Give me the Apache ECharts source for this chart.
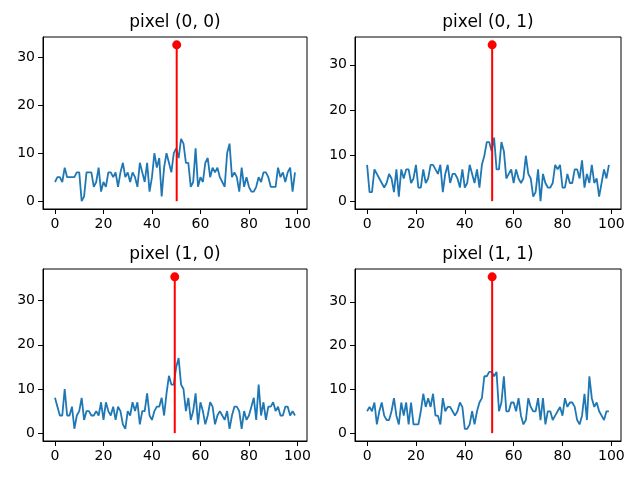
<!DOCTYPE html>
<html><head><meta charset="utf-8">
<script src="https://cdn.jsdelivr.net/npm/echarts@6/dist/echarts.min.js"></script>
<style>html,body{margin:0;padding:0;background:#fff}#c{width:640px;height:480px}</style>
</head><body><div id="c"></div>
<script>
const titles = ['pixel (0, 0)', 'pixel (0, 1)', 'pixel (1, 0)', 'pixel (1, 1)'];
const s00 = [4,5,5,4,7,5,5,5,5,6,6,0,1,6,6,6,3,4,7,2,4,3,6,6,5,6,3,6,8,5,6,4,6,5,3,8,6,4,8,2,5,10,7,9,1,7,10,8,6,10,11,9,13,12,8,8,3,4,11,3,5,4,8,9,5,7,6,7,5,4,3,10,12,5,6,5,2,7,3,5,3,2,2,3,5,4,6,6,5,3,3,3,7,5,6,4,6,7,2,6];
const s01 = [8,2,2,7,6,5,4,3,4,6,5,2,7,1,7,5,7,7,4,5,8,3,3,7,4,5,8,8,7,6,8,2,6,8,4,6,6,5,3,7,3,4,8,6,4,7,3,8,10,13,13,11,14,7,7,13,11,5,6,7,4,7,5,4,5,10,6,5,1,2,7,0,6,4,3,3,4,8,7,8,3,3,6,4,4,7,7,5,9,3,6,4,8,4,5,1,4,7,5,8];
const s10 = [8,6,4,4,10,4,4,6,1,4,5,8,3,5,5,4,4,5,4,7,3,7,5,4,6,3,6,5,2,1,5,4,7,5,7,2,5,5,9,4,3,5,6,6,8,4,9,13,11,11,15,17,11,10,5,8,3,5,9,2,7,5,2,4,7,6,2,4,5,4,3,5,1,4,6,6,5,1,5,3,4,6,8,3,11,4,7,3,6,6,7,5,6,4,4,6,6,4,5,4];
const s11 = [5,6,5,7,2,5,7,4,3,3,5,8,4,2,7,4,7,2,7,2,2,2,5,9,6,8,6,9,4,4,2,8,5,6,6,5,4,5,7,6,1,1,2,5,2,5,7,8,13,13,14,14,13,14,5,7,13,5,5,7,7,5,8,4,2,3,8,6,5,5,8,3,8,2,5,5,3,4,5,6,4,8,6,7,7,6,3,2,4,9,3,13,8,6,7,5,4,3,5,5];
const series = [s00, s01, s10, s11];
const stemX = [50.2, 51.2, 49.4, 51.2];
const stemY = [32.6, 34.4, 35.4, 35.7];
const xTicks = [0, 20, 40, 60, 80, 100];
const yTicks = [0, 10, 20, 30];

const gridPos = [
  {left: 43, top: 37, width: 264, height: 172},
  {left: 355, top: 37, width: 266, height: 172},
  {left: 43, top: 269, width: 264, height: 172},
  {left: 355, top: 269, width: 266, height: 172}
];
const FONT = 'DejaVu Sans';
const grids = [], xAxes = [], yAxes = [], ser = [], graphics = [];
series.forEach((d, k) => {
  grids.push(Object.assign({show: true, borderColor: '#000', borderWidth: 1, backgroundColor: 'transparent', containLabel: false}, gridPos[k]));
  const n = d.length;
  const xpad = (n - 1) * 0.05;
  const ymax = Math.max(stemY[k], Math.max(...d));
  const ypad = ymax * 0.05;
  xAxes.push({
    type: 'value', gridIndex: k, min: -xpad, max: (n - 1) + xpad, position: 'bottom',
    axisLine: {show: true, onZero: false, lineStyle: {color: '#000', width: 1}}, splitLine: {show: false},
    axisTick: {show: true, inside: false, length: 5, customValues: xTicks, lineStyle: {color: '#000', width: 1}},
    axisLabel: {customValues: xTicks, color: '#000', fontSize: 14, fontFamily: FONT, margin: 8, showMinLabel: true, showMaxLabel: true}
  });
  yAxes.push({
    type: 'value', gridIndex: k, min: -ypad, max: ymax + ypad, position: 'left',
    axisLine: {show: true, onZero: false, lineStyle: {color: '#000', width: 1}}, splitLine: {show: false},
    axisTick: {show: true, inside: false, length: 5, customValues: yTicks, lineStyle: {color: '#000', width: 1}},
    axisLabel: {customValues: yTicks, color: '#000', fontSize: 14, fontFamily: FONT, margin: 8}
  });
  ser.push({
    type: 'line', xAxisIndex: k, yAxisIndex: k, showSymbol: false, symbol: 'none',
    data: d.map((v, i) => [i, v]),
    lineStyle: {color: '#1f77b4', width: 1.8}, itemStyle: {color: '#1f77b4'}, silent: true
  });
  ser.push({
    type: 'line', xAxisIndex: k, yAxisIndex: k, symbol: 'none',
    data: [[stemX[k], 0], [stemX[k], stemY[k]]],
    lineStyle: {color: '#ff0000', width: 2}, silent: true
  });
  ser.push({
    type: 'scatter', xAxisIndex: k, yAxisIndex: k, symbolSize: 9,
    data: [[stemX[k], stemY[k]]],
    itemStyle: {color: '#ff0000', opacity: 1}, silent: true
  });
  const g = gridPos[k];
  graphics.push({
    type: 'text', x: g.left + g.width / 2, y: g.top - 14,
    style: {text: titles[k], textAlign: 'center', textVerticalAlign: 'middle', font: '17px "DejaVu Sans"', fill: '#000'}
  });
});

const chart = echarts.init(document.getElementById('c'), null, {renderer: 'canvas'});
chart.setOption({
  animation: false,
  backgroundColor: '#fff',
  grid: grids, xAxis: xAxes, yAxis: yAxes, series: ser, graphic: graphics
});
</script>
</body></html>
